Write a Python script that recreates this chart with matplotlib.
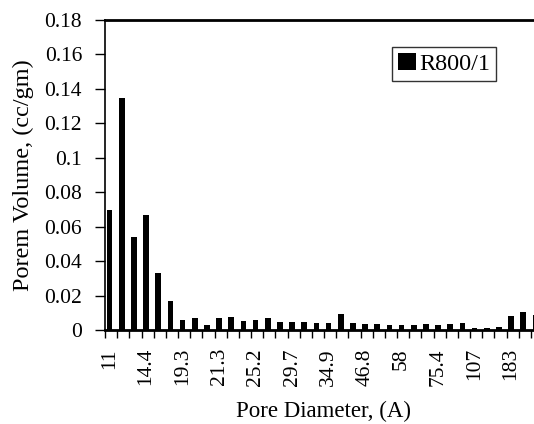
import matplotlib
matplotlib.use("Agg")
import matplotlib.pyplot as plt
import numpy as np

plt.rcParams['font.family'] = ['Liberation Serif', 'DejaVu Serif']

# pore volume per category (36 categories, last one cut by the frame)
volumes = [0.0695, 0.135, 0.054, 0.067, 0.033, 0.017, 0.006, 0.0068, 0.003,
           0.0068, 0.0075, 0.005, 0.0058, 0.0068, 0.0046, 0.0046, 0.0045,
           0.004, 0.004, 0.0095, 0.004, 0.0033, 0.0033, 0.003, 0.003, 0.003,
           0.0035, 0.003, 0.0035, 0.004, 0.001, 0.001, 0.002, 0.0083, 0.0102,
           0.0085]
label_positions = [0, 3, 6, 9, 12, 15, 18, 21, 24, 27, 30, 33]
tick_labels = ["11", "14.4", "19.3", "21.3", "25.2", "29.7", "34.9", "46.8",
               "58", "75.4", "107", "183"]
series_name = "R800/1"

W, H = 534, 424
fig = plt.figure(figsize=(W / 100, H / 100), dpi=100)
left, right, top, bottom = 105, 543, 20, 330
ax = fig.add_axes([left / W, 1 - bottom / H, (right - left) / W, (bottom - top) / H])

n = len(volumes)
off = 0.38
x = np.arange(n) + off
ax.bar(x, volumes, width=0.47, color='black', label=series_name)

ax.set_xlim(0, 36)
ax.set_ylim(0, 0.18)
ax.set_yticks(np.arange(0, 0.181, 0.02))
ax.set_yticklabels(["0"] + [f"{v:g}" for v in np.arange(0.02, 0.181, 0.02)])

ax.set_xticks([p + off for p in label_positions])
ax.set_xticklabels(tick_labels, rotation=90)
ax.set_xticks(np.arange(0, 37), minor=True)
ax.tick_params(axis='x', which='major', length=0, pad=13, labelsize=15.5)
ax.tick_params(axis='x', which='minor', length=6, width=1, direction='out')
ax.tick_params(axis='y', length=7, width=1, direction='out', labelsize=15.5, pad=9.5)

ax.spines['right'].set_visible(False)
ax.spines['top'].set_linewidth(2)
ax.spines['left'].set_linewidth(1.2)
ax.spines['bottom'].set_linewidth(2)

ax.set_xlabel("Pore Diameter, (A)", fontsize=16.5)
ax.set_ylabel("Porem Volume, (cc/gm)", fontsize=17.5)
ax.xaxis.set_label_coords((323 - left) / (right - left), -(401 - bottom) / (bottom - top))
ax.yaxis.set_label_coords(-(left - 34) / (right - left), (bottom - 175) / (bottom - top))

leg = ax.legend(loc='upper left', bbox_to_anchor=(392 / W, 1 - 47 / H),
                bbox_transform=fig.transFigure, fontsize=17.5, frameon=True,
                fancybox=False, handlelength=0.72, handleheight=0.72,
                handletextpad=0.15, borderpad=0.25, borderaxespad=0)
leg.get_frame().set_edgecolor('black')
leg.get_frame().set_linewidth(1)

fig.savefig("out.png", dpi=100)
